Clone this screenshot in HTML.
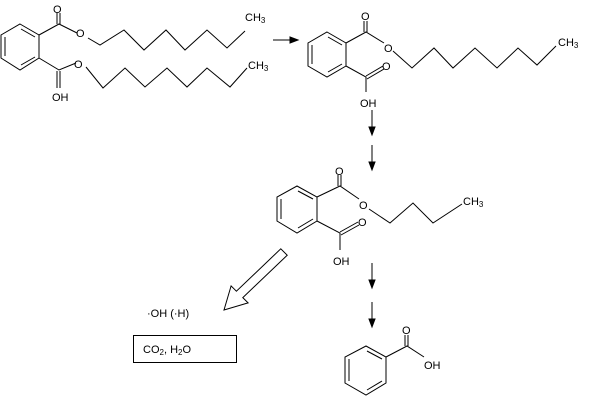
<!DOCTYPE html>
<html><head><style>
html,body{margin:0;padding:0;background:#fff;}
svg{display:block;}
text{font-family:"Liberation Sans",sans-serif;font-size:11px;fill:#000;}
</style></head><body>
<svg width="613" height="416" viewBox="0 0 613 416" stroke="#000" stroke-width="1" fill="none">
<!-- Molecule 1 -->
<polygon points="20,24 39,35 39,58 20,70 1,58 1,35"/>
<line x1="21" y1="29" x2="35" y2="37"/><line x1="5" y1="37" x2="5" y2="56"/><line x1="21" y1="65" x2="35" y2="57"/>
<polyline points="39,35 59,24 77,33"/>
<line x1="57" y1="24" x2="57" y2="13"/><line x1="60" y1="24" x2="60" y2="13"/>
<polyline points="88,38 100,45 124,30 144,50 166,30 185,50 207,30 227,48 245,31"/>
<polyline points="39,58 59,70 76,63"/>
<line x1="57" y1="71" x2="57" y2="88"/><line x1="60" y1="71" x2="60" y2="88"/>
<polyline points="86,67 103,88 125,68 145,87 167,68 187,87 207,68 230,87 247,68"/>
<g stroke="none" fill="#000">
<text x="53" y="13">O</text><text x="76" y="37">O</text><text x="74" y="68">O</text><text x="52" y="101">OH</text>
<text x="245" y="21" font-size="10">CH<tspan font-size="8" dy="2">3</tspan></text>
<text x="248" y="69" font-size="10">CH<tspan font-size="8" dy="2">3</tspan></text>
</g>
<!-- arrow 1 -->
<line x1="273" y1="40" x2="292" y2="40"/><polygon points="298,40 290,37 290,43" fill="#000"/>
<!-- Molecule 2 -->
<polygon points="327,32 346,43 346,66 327,77 308,66 308,43"/>
<line x1="328" y1="37" x2="342" y2="45"/><line x1="312" y1="45" x2="312" y2="64"/><line x1="328" y1="72" x2="342" y2="64"/>
<polyline points="346,43 366,32 384,43"/>
<line x1="364" y1="32" x2="364" y2="21"/><line x1="367" y1="32" x2="367" y2="21"/>
<polyline points="393,51 412,68 434,48 453,68 475,48 497,68 518,48 537,65 556,46"/>
<polyline points="346,66 366,77 366,92"/>
<line x1="366" y1="76" x2="383" y2="66"/><line x1="367" y1="79" x2="384" y2="69"/>
<g stroke="none" fill="#000">
<text x="361" y="20">O</text><text x="384" y="52">O</text><text x="382" y="70">O</text><text x="360" y="107">OH</text>
<text x="558" y="46" font-size="10">CH<tspan font-size="8" dy="2">3</tspan></text>
</g>
<line x1="372" y1="110" x2="372" y2="128"/><polygon points="372,135 369,127 375,127" fill="#000"/>
<line x1="372" y1="145" x2="372" y2="163"/><polygon points="372,170 369,162 375,162" fill="#000"/>
<!-- Molecule 3 -->
<polygon points="297,186 317,197 317,221 297,233 277,221 277,197"/>
<line x1="298" y1="191" x2="313" y2="199"/><line x1="281" y1="199" x2="281" y2="219"/><line x1="298" y1="228" x2="313" y2="219"/>
<polyline points="317,197 340,186 359,199"/>
<line x1="338" y1="186" x2="338" y2="175"/><line x1="341" y1="186" x2="341" y2="175"/>
<polyline points="369,209 390,223 413,203 433,223 462,204"/>
<polyline points="317,221 340,233 340,250"/>
<line x1="340" y1="232" x2="358" y2="222"/><line x1="341" y1="235" x2="359" y2="225"/>
<g stroke="none" fill="#000">
<text x="335" y="175">O</text><text x="359" y="209">O</text><text x="358" y="226">O</text><text x="333" y="265">OH</text>
<text x="463" y="205" font-size="10">CH<tspan font-size="8" dy="2">3</tspan></text>
</g>
<line x1="372" y1="263" x2="372" y2="281"/><polygon points="372,288 369,280 375,280" fill="#000"/>
<line x1="372" y1="302" x2="372" y2="320"/><polygon points="372,327 369,319 375,319" fill="#000"/>
<!-- hollow arrow -->
<polygon points="280.8,248.8 287.2,255.2 242.8,297.6 248.1,302.9 224,310 231.1,285.9 236.4,291.2"/>
<g stroke="none" fill="#000"><text x="147" y="317" font-size="10">·OH (·H)</text></g>
<rect x="133.5" y="335.5" width="103" height="27"/>
<g stroke="none" fill="#000"><text x="143" y="353" font-size="11">CO<tspan font-size="8" dy="2">2</tspan><tspan dy="-2">, H</tspan><tspan font-size="8" dy="2">2</tspan><tspan dy="-2">O</tspan></text></g>
<!-- Benzoic acid -->
<polygon points="366,346 386,357 386,383 366,395 345,383 345,357"/>
<line x1="367" y1="351" x2="382" y2="359"/><line x1="349" y1="359" x2="349" y2="381"/><line x1="367" y1="390" x2="382" y2="381"/>
<polyline points="386,357 407,346 424,357"/>
<line x1="405" y1="346" x2="405" y2="335"/><line x1="408" y1="346" x2="408" y2="335"/>
<g stroke="none" fill="#000"><text x="402" y="334">O</text><text x="424" y="369">OH</text></g>
</svg>
</body></html>
